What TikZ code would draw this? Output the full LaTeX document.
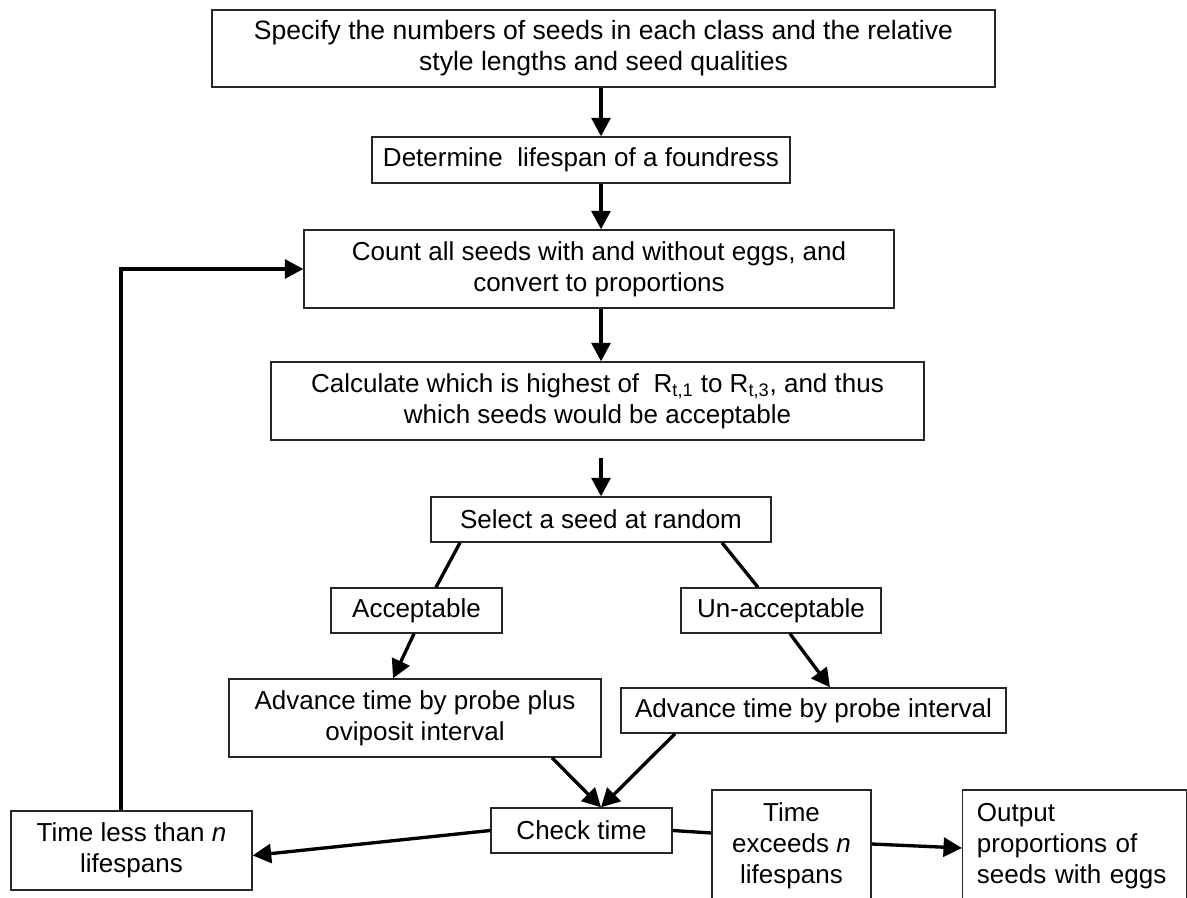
\documentclass[tikz,border=0pt]{standalone}
\usepackage{fontspec}
\setmainfont{Liberation Sans}
\usetikzlibrary{arrows.meta,calc}
\newcommand\mainfnt{\fontsize{14.8}{17.6}\selectfont}
\newcommand\topfnt{\fontsize{15.1}{17.8}\selectfont}
\begin{document}
\begin{tikzpicture}[x=0.02cm,y=-0.02cm,
  box/.style={draw=black!85,line width=0.8pt,inner sep=0pt,align=center,font=\mainfnt},
  wh/.style 2 args={minimum width=#1*0.02cm,minimum height=#2*0.02cm},
  arr/.style={line width=1.9pt,-{Triangle[width=0.38cm,length=0.37cm]}},
  ln/.style={line width=1.9pt}]
\clip (0,0) rectangle (1187,898);
\fill[white] (0,0) rectangle (1187,898);
% boxes
\node[box,font=\topfnt,wh={783}{77}] (top) at (603.5,48.5) {Specify the numbers of seeds in each class and the relative\\style lengths and seed qualities};
\node[box,wh={418}{46}] (det) at (581,160) {Determine\ \ lifespan of a foundress};
\node[box,wh={590}{78}] (count) at (599,269) {Count all seeds with and without eggs, and\\convert to proportions};
\node[box,wh={653}{78}] (calc) at (597.5,401) {Calculate which is highest of\ \ R\textsubscript{t,1} to R\textsubscript{t,3}, and thus\\which seeds would be acceptable};
\node[box,wh={340}{45}] (sel) at (601,519.5) {Select a seed at random};
\node[box,wh={171}{45}] (acc) at (416.5,610.5) {Acceptable};
\node[box,wh={200}{45}] (unacc) at (781,610.5) {Un-acceptable};
\node[box,wh={372}{78}] (ladv) at (415,718) {Advance time by probe plus\\oviposit interval};
\node[box,wh={385}{45}] (radv) at (813.5,710.5) {Advance time by probe interval};
\node[box,wh={181}{45}] (check) at (581.5,830.5) {Check time};
\node[box,wh={241}{79}] (tless) at (131.5,850.5) {Time less than \textit{n}\\lifespans};
\node[box,wh={159}{112}] (exc) at (791.5,846) {Time\\exceeds \textit{n}\\lifespans};
\node[box,wh={223.5}{112},text width=3.9cm,align=left,anchor=west] (out) at (962,846) {Output\\proportions of\\seeds with eggs};
% helper coordinates
\coordinate (cx) at (601,0);
\coordinate (cs) at (601,458);
\coordinate (p1) at (460,0);
\coordinate (p2) at (436,0);
\coordinate (p3) at (722,0);
\coordinate (p4) at (758,0);
\coordinate (p5) at (414,0);
\coordinate (p6) at (393,0);
\coordinate (p7) at (790,0);
\coordinate (p8) at (830,0);
\coordinate (p9) at (552,0);
\coordinate (p10) at (675,0);
\coordinate (lx) at (121,0);
% connectors
\draw[arr] (top.south -| cx) -- (det.north -| cx);
\draw[arr] (det.south -| cx) -- (count.north -| cx);
\draw[arr] (count.south -| cx) -- (calc.north -| cx);
\draw[arr] (cs) -- (sel.north);
\draw[ln] (sel.south -| p1) -- (acc.north -| p2);
\draw[ln] (sel.south -| p3) -- (unacc.north -| p4);
\draw[arr] (acc.south -| p5) -- (ladv.north -| p6);
\draw[arr] (unacc.south -| p7) -- (radv.north -| p8);
\draw[arr] (ladv.south -| p9) -- (check.north -| cx);
\draw[arr] (radv.south -| p10) -- (check.north -| cx);
\draw[arr] (check.west) -- ($(tless.east)+(0,5)$);
\draw[ln] (check.east) -- ($(exc.west)+(0,-13)$);
\draw[arr] ($(exc.east)+(0,-2)$) -- ($(out.west)+(0,2)$);
\draw[arr] (tless.north -| lx) |- (count.west);
\end{tikzpicture}
\end{document}
